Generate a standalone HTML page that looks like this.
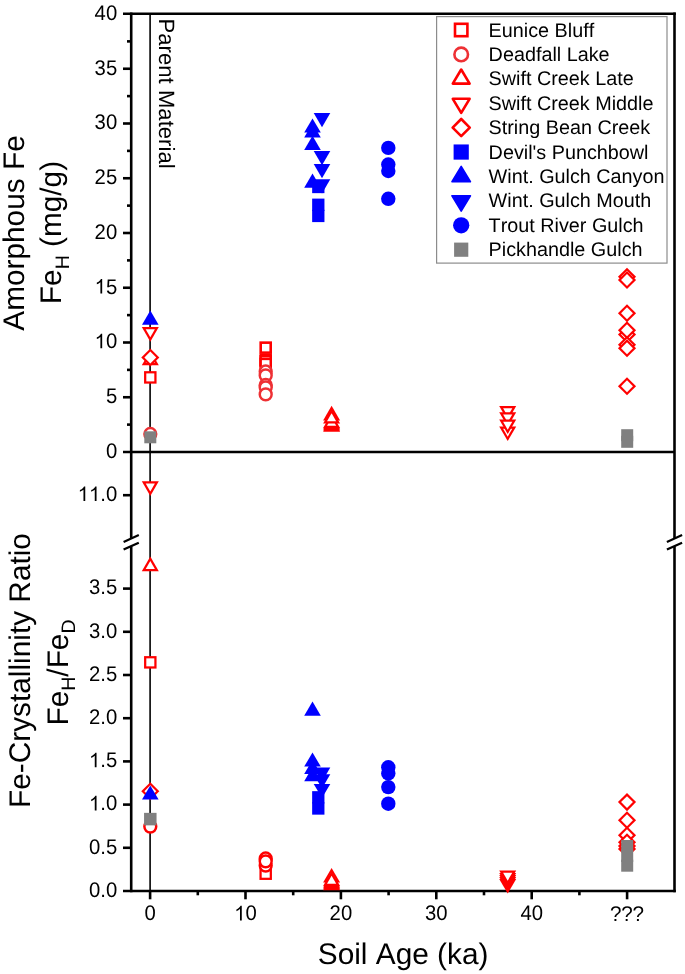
<!DOCTYPE html>
<html><head><meta charset="utf-8"><title>Fe chart</title>
<style>html,body{margin:0;padding:0;background:#fff;}svg{display:block;font-family:"Liberation Sans",sans-serif;}text{font-kerning:none;font-feature-settings:"kern" 0;text-rendering:geometricPrecision;}svg{will-change:transform;}</style>
</head><body>
<svg width="685" height="974" viewBox="0 0 685 974">
<rect x="0" y="0" width="685" height="974" fill="#fff"/>
<line x1="150.1" y1="13.7" x2="150.1" y2="891" stroke="#000" stroke-width="1.6" stroke-linecap="butt"/>
<line x1="131.2" y1="12.4" x2="131.2" y2="538.4" stroke="#000" stroke-width="2.6" stroke-linecap="butt"/>
<line x1="131.2" y1="546.2" x2="131.2" y2="892.3" stroke="#000" stroke-width="2.6" stroke-linecap="butt"/>
<line x1="674.5" y1="12.4" x2="674.5" y2="538.4" stroke="#000" stroke-width="2.6" stroke-linecap="butt"/>
<line x1="674.5" y1="546.2" x2="674.5" y2="892.3" stroke="#000" stroke-width="2.6" stroke-linecap="butt"/>
<line x1="123" y1="13.7" x2="675.8" y2="13.7" stroke="#000" stroke-width="2.6" stroke-linecap="butt"/>
<line x1="123" y1="452" x2="674.5" y2="452" stroke="#000" stroke-width="2.6" stroke-linecap="butt"/>
<line x1="123" y1="891" x2="675.8" y2="891" stroke="#000" stroke-width="2.6" stroke-linecap="butt"/>
<line x1="123.6" y1="541.9" x2="138.8" y2="535" stroke="#000" stroke-width="2.2" stroke-linecap="butt"/>
<line x1="123.6" y1="549.6" x2="138.8" y2="542.7" stroke="#000" stroke-width="2.2" stroke-linecap="butt"/>
<line x1="666.9" y1="541.9" x2="682.1" y2="535" stroke="#000" stroke-width="2.2" stroke-linecap="butt"/>
<line x1="666.9" y1="549.6" x2="682.1" y2="542.7" stroke="#000" stroke-width="2.2" stroke-linecap="butt"/>
<line x1="127" y1="424.62" x2="131.2" y2="424.62" stroke="#000" stroke-width="2.6" stroke-linecap="butt"/>
<line x1="123" y1="397.25" x2="131.2" y2="397.25" stroke="#000" stroke-width="2.6" stroke-linecap="butt"/>
<line x1="127" y1="369.88" x2="131.2" y2="369.88" stroke="#000" stroke-width="2.6" stroke-linecap="butt"/>
<line x1="123" y1="342.5" x2="131.2" y2="342.5" stroke="#000" stroke-width="2.6" stroke-linecap="butt"/>
<line x1="127" y1="315.12" x2="131.2" y2="315.12" stroke="#000" stroke-width="2.6" stroke-linecap="butt"/>
<line x1="123" y1="287.75" x2="131.2" y2="287.75" stroke="#000" stroke-width="2.6" stroke-linecap="butt"/>
<line x1="127" y1="260.38" x2="131.2" y2="260.38" stroke="#000" stroke-width="2.6" stroke-linecap="butt"/>
<line x1="123" y1="233" x2="131.2" y2="233" stroke="#000" stroke-width="2.6" stroke-linecap="butt"/>
<line x1="127" y1="205.63" x2="131.2" y2="205.63" stroke="#000" stroke-width="2.6" stroke-linecap="butt"/>
<line x1="123" y1="178.25" x2="131.2" y2="178.25" stroke="#000" stroke-width="2.6" stroke-linecap="butt"/>
<line x1="127" y1="150.88" x2="131.2" y2="150.88" stroke="#000" stroke-width="2.6" stroke-linecap="butt"/>
<line x1="123" y1="123.5" x2="131.2" y2="123.5" stroke="#000" stroke-width="2.6" stroke-linecap="butt"/>
<line x1="127" y1="96.12" x2="131.2" y2="96.12" stroke="#000" stroke-width="2.6" stroke-linecap="butt"/>
<line x1="123" y1="68.75" x2="131.2" y2="68.75" stroke="#000" stroke-width="2.6" stroke-linecap="butt"/>
<line x1="127" y1="41.38" x2="131.2" y2="41.38" stroke="#000" stroke-width="2.6" stroke-linecap="butt"/>
<line x1="123" y1="847.8" x2="131.2" y2="847.8" stroke="#000" stroke-width="2.6" stroke-linecap="butt"/>
<line x1="123" y1="804.6" x2="131.2" y2="804.6" stroke="#000" stroke-width="2.6" stroke-linecap="butt"/>
<line x1="123" y1="761.4" x2="131.2" y2="761.4" stroke="#000" stroke-width="2.6" stroke-linecap="butt"/>
<line x1="123" y1="718.2" x2="131.2" y2="718.2" stroke="#000" stroke-width="2.6" stroke-linecap="butt"/>
<line x1="123" y1="675" x2="131.2" y2="675" stroke="#000" stroke-width="2.6" stroke-linecap="butt"/>
<line x1="123" y1="631.8" x2="131.2" y2="631.8" stroke="#000" stroke-width="2.6" stroke-linecap="butt"/>
<line x1="123" y1="588.6" x2="131.2" y2="588.6" stroke="#000" stroke-width="2.6" stroke-linecap="butt"/>
<line x1="123" y1="495.2" x2="131.2" y2="495.2" stroke="#000" stroke-width="2.6" stroke-linecap="butt"/>
<line x1="150.1" y1="891" x2="150.1" y2="899.3" stroke="#000" stroke-width="2.6" stroke-linecap="butt"/>
<line x1="197.8" y1="891" x2="197.8" y2="895.3" stroke="#000" stroke-width="2.6" stroke-linecap="butt"/>
<line x1="245.5" y1="891" x2="245.5" y2="899.3" stroke="#000" stroke-width="2.6" stroke-linecap="butt"/>
<line x1="293.2" y1="891" x2="293.2" y2="895.3" stroke="#000" stroke-width="2.6" stroke-linecap="butt"/>
<line x1="340.9" y1="891" x2="340.9" y2="899.3" stroke="#000" stroke-width="2.6" stroke-linecap="butt"/>
<line x1="388.6" y1="891" x2="388.6" y2="895.3" stroke="#000" stroke-width="2.6" stroke-linecap="butt"/>
<line x1="436.3" y1="891" x2="436.3" y2="899.3" stroke="#000" stroke-width="2.6" stroke-linecap="butt"/>
<line x1="484" y1="891" x2="484" y2="895.3" stroke="#000" stroke-width="2.6" stroke-linecap="butt"/>
<line x1="531.7" y1="891" x2="531.7" y2="899.3" stroke="#000" stroke-width="2.6" stroke-linecap="butt"/>
<line x1="579.4" y1="891" x2="579.4" y2="895.3" stroke="#000" stroke-width="2.6" stroke-linecap="butt"/>
<line x1="627.1" y1="891" x2="627.1" y2="899.3" stroke="#000" stroke-width="2.6" stroke-linecap="butt"/>
<g font-family="Liberation Sans, sans-serif" fill="#000">
<text transform="translate(105.91,457.8) scale(1,1.04)" font-size="20.3">0</text>
<text transform="translate(105.91,403.05) scale(1,1.04)" font-size="20.3">5</text>
<path d="M102.18 348.3 L100.4 348.3 L100.4 336.93 Q99.75 337.55 98.73 338.15 Q97.71 338.75 96.83 339.08 L96.83 337.36 Q98.3 336.66 99.4 335.68 Q100.51 334.7 100.96 333.77 L102.18 333.77 Z" fill="#000"/>
<text transform="translate(105.91,348.3) scale(1,1.04)" font-size="20.3">0</text>
<path d="M102.18 293.55 L100.4 293.55 L100.4 282.18 Q99.75 282.8 98.73 283.4 Q97.71 284 96.83 284.33 L96.83 282.61 Q98.3 281.91 99.4 280.93 Q100.51 279.95 100.96 279.02 L102.18 279.02 Z" fill="#000"/>
<text transform="translate(105.91,293.55) scale(1,1.04)" font-size="20.3">5</text>
<text transform="translate(94.62,238.8) scale(1,1.04)" font-size="20.3">2</text>
<text transform="translate(105.91,238.8) scale(1,1.04)" font-size="20.3">0</text>
<text transform="translate(94.62,184.05) scale(1,1.04)" font-size="20.3">2</text>
<text transform="translate(105.91,184.05) scale(1,1.04)" font-size="20.3">5</text>
<text transform="translate(94.62,129.3) scale(1,1.04)" font-size="20.3">3</text>
<text transform="translate(105.91,129.3) scale(1,1.04)" font-size="20.3">0</text>
<text transform="translate(94.62,74.55) scale(1,1.04)" font-size="20.3">3</text>
<text transform="translate(105.91,74.55) scale(1,1.04)" font-size="20.3">5</text>
<text transform="translate(94.62,19.8) scale(1,1.04)" font-size="20.3">4</text>
<text transform="translate(105.91,19.8) scale(1,1.04)" font-size="20.3">0</text>
<text transform="translate(88.98,896.8) scale(1,1.04)" font-size="20.3">0</text>
<text transform="translate(100.27,896.8) scale(1,1.04)" font-size="20.3">.</text>
<text transform="translate(105.91,896.8) scale(1,1.04)" font-size="20.3">0</text>
<text transform="translate(88.98,853.6) scale(1,1.04)" font-size="20.3">0</text>
<text transform="translate(100.27,853.6) scale(1,1.04)" font-size="20.3">.</text>
<text transform="translate(105.91,853.6) scale(1,1.04)" font-size="20.3">5</text>
<path d="M96.54 810.4 L94.76 810.4 L94.76 799.03 Q94.11 799.65 93.09 800.25 Q92.07 800.85 91.19 801.18 L91.19 799.46 Q92.66 798.76 93.76 797.78 Q94.87 796.8 95.32 795.87 L96.54 795.87 Z" fill="#000"/>
<text transform="translate(100.27,810.4) scale(1,1.04)" font-size="20.3">.</text>
<text transform="translate(105.91,810.4) scale(1,1.04)" font-size="20.3">0</text>
<path d="M96.54 767.2 L94.76 767.2 L94.76 755.83 Q94.11 756.45 93.09 757.05 Q92.07 757.65 91.19 757.98 L91.19 756.26 Q92.66 755.56 93.76 754.58 Q94.87 753.6 95.32 752.67 L96.54 752.67 Z" fill="#000"/>
<text transform="translate(100.27,767.2) scale(1,1.04)" font-size="20.3">.</text>
<text transform="translate(105.91,767.2) scale(1,1.04)" font-size="20.3">5</text>
<text transform="translate(88.98,724) scale(1,1.04)" font-size="20.3">2</text>
<text transform="translate(100.27,724) scale(1,1.04)" font-size="20.3">.</text>
<text transform="translate(105.91,724) scale(1,1.04)" font-size="20.3">0</text>
<text transform="translate(88.98,680.8) scale(1,1.04)" font-size="20.3">2</text>
<text transform="translate(100.27,680.8) scale(1,1.04)" font-size="20.3">.</text>
<text transform="translate(105.91,680.8) scale(1,1.04)" font-size="20.3">5</text>
<text transform="translate(88.98,637.6) scale(1,1.04)" font-size="20.3">3</text>
<text transform="translate(100.27,637.6) scale(1,1.04)" font-size="20.3">.</text>
<text transform="translate(105.91,637.6) scale(1,1.04)" font-size="20.3">0</text>
<text transform="translate(88.98,594.4) scale(1,1.04)" font-size="20.3">3</text>
<text transform="translate(100.27,594.4) scale(1,1.04)" font-size="20.3">.</text>
<text transform="translate(105.91,594.4) scale(1,1.04)" font-size="20.3">5</text>
<path d="M85.25 501 L83.47 501 L83.47 489.63 Q82.82 490.25 81.8 490.85 Q80.78 491.45 79.9 491.78 L79.9 490.06 Q81.37 489.36 82.47 488.38 Q83.58 487.4 84.03 486.47 L85.25 486.47 Z" fill="#000"/>
<path d="M96.54 501 L94.76 501 L94.76 489.63 Q94.11 490.25 93.09 490.85 Q92.07 491.45 91.19 491.78 L91.19 490.06 Q92.66 489.36 93.76 488.38 Q94.87 487.4 95.32 486.47 L96.54 486.47 Z" fill="#000"/>
<text transform="translate(100.27,501) scale(1,1.04)" font-size="20.3">.</text>
<text transform="translate(105.91,501) scale(1,1.04)" font-size="20.3">0</text>
<text transform="translate(144.46,920.4) scale(1,1.04)" font-size="20.3">0</text>
<path d="M241.77 920.4 L239.99 920.4 L239.99 909.03 Q239.34 909.65 238.32 910.25 Q237.3 910.85 236.42 911.18 L236.42 909.46 Q237.89 908.76 238.99 907.78 Q240.1 906.8 240.55 905.87 L241.77 905.87 Z" fill="#000"/>
<text transform="translate(245.5,920.4) scale(1,1.04)" font-size="20.3">0</text>
<text transform="translate(329.61,920.4) scale(1,1.04)" font-size="20.3">2</text>
<text transform="translate(340.9,920.4) scale(1,1.04)" font-size="20.3">0</text>
<text transform="translate(425.01,920.4) scale(1,1.04)" font-size="20.3">3</text>
<text transform="translate(436.3,920.4) scale(1,1.04)" font-size="20.3">0</text>
<text transform="translate(520.41,920.4) scale(1,1.04)" font-size="20.3">4</text>
<text transform="translate(531.7,920.4) scale(1,1.04)" font-size="20.3">0</text>
<text transform="translate(609.97,920.5) scale(1.02,1.05)" font-size="20.3">?</text>
<text transform="translate(621.26,920.5) scale(1.02,1.05)" font-size="20.3">?</text>
<text transform="translate(632.54,920.5) scale(1.02,1.05)" font-size="20.3">?</text>
<text x="403.1" y="963.6" font-size="29.8" text-anchor="middle">Soil Age (ka)</text>
<text transform="translate(24.2,233) rotate(-90)" font-size="29.8" text-anchor="middle">Amorphous Fe</text>
<text transform="translate(61.3,232.5) rotate(-90)" font-size="29.8" text-anchor="middle">Fe<tspan font-size="19.5" dy="7.6">H</tspan><tspan dy="-7.6"> (mg/g)</tspan></text>
<text transform="translate(30.4,670.5) rotate(-90)" font-size="29.8" text-anchor="middle">Fe-Crystallinity Ratio</text>
<text transform="translate(67.8,672.5) rotate(-90)" font-size="29.8" text-anchor="middle">Fe<tspan font-size="19.5" dy="7.6">H</tspan><tspan dy="-7.6">/Fe</tspan><tspan font-size="19.5" dy="7.6">D</tspan></text>
<text transform="translate(159.4,18.5) rotate(90)" font-size="22.15">Parent Material</text>
</g>
<rect x="145.18" y="372.27" width="10.25" height="10.25" fill="#fff" stroke="#ff0000" stroke-width="2.25"/>
<rect x="260.68" y="355.03" width="10.05" height="10.05" fill="#fff" stroke="#ff0000" stroke-width="2.45"/>
<rect x="260.68" y="356.23" width="10.05" height="10.05" fill="#fff" stroke="#ff0000" stroke-width="2.45"/>
<rect x="260.68" y="358.93" width="10.05" height="10.05" fill="#fff" stroke="#ff0000" stroke-width="2.45"/>
<rect x="260.7" y="342.65" width="10" height="10" fill="#fff" stroke="#ff0000" stroke-width="2.6"/>
<rect x="145.18" y="657.23" width="10.25" height="10.25" fill="#fff" stroke="#ff0000" stroke-width="2.25"/>
<rect x="260.57" y="868.58" width="10.25" height="10.25" fill="#fff" stroke="#ff0000" stroke-width="2.25"/>
<circle cx="150.3" cy="434" r="5.93" fill="#fff" stroke="#ee3034" stroke-width="2.45"/>
<circle cx="265.7" cy="371.5" r="5.93" fill="#fff" stroke="#ee3034" stroke-width="2.45"/>
<circle cx="265.7" cy="375.4" r="5.93" fill="#fff" stroke="#ee3034" stroke-width="2.45"/>
<circle cx="265.7" cy="385" r="5.93" fill="#fff" stroke="#ee3034" stroke-width="2.45"/>
<circle cx="265.7" cy="387.4" r="5.93" fill="#fff" stroke="#ee3034" stroke-width="2.45"/>
<circle cx="265.7" cy="394.4" r="5.93" fill="#fff" stroke="#ee3034" stroke-width="2.45"/>
<circle cx="150.3" cy="826.6" r="5.93" fill="#fff" stroke="#ff0000" stroke-width="2.45"/>
<circle cx="265.7" cy="858.5" r="5.93" fill="#fff" stroke="#ff0000" stroke-width="2.45"/>
<circle cx="265.7" cy="865.6" r="5.93" fill="#fff" stroke="#ff0000" stroke-width="2.45"/>
<circle cx="265.7" cy="861.35" r="5.93" fill="#fff" stroke="#ff0000" stroke-width="2.45"/>
<polygon points="150.3,350.7 158.8,365.3 141.8,365.3" fill="#ff0000"/>
<polygon points="150.3,355.17 154.89,363.05 145.71,363.05" fill="#fff"/>
<polygon points="331.6,405.8 340.1,420.4 323.1,420.4" fill="#ff0000"/>
<polygon points="331.6,410.27 336.19,418.15 327.01,418.15" fill="#fff"/>
<polygon points="331.6,417.2 340.1,431.8 323.1,431.8" fill="#ff0000"/>
<polygon points="331.6,421.67 336.19,429.55 327.01,429.55" fill="#fff"/>
<polygon points="331.6,416 340.1,430.6 323.1,430.6" fill="#ff0000"/>
<polygon points="331.6,420.47 336.19,428.35 327.01,428.35" fill="#fff"/>
<polygon points="331.6,414.7 340.1,429.3 323.1,429.3" fill="#ff0000"/>
<polygon points="331.6,419.17 336.19,427.05 327.01,427.05" fill="#fff"/>
<polygon points="331.6,413.4 340.1,428 323.1,428" fill="#ff0000"/>
<polygon points="331.6,417.87 336.19,425.75 327.01,425.75" fill="#fff"/>
<polygon points="331.6,408.9 340.1,423.5 323.1,423.5" fill="#ff0000"/>
<polygon points="331.6,413.37 336.19,421.25 327.01,421.25" fill="#fff"/>
<polygon points="150.3,556.6 158.8,571.2 141.8,571.2" fill="#ff0000"/>
<polygon points="150.3,561.07 154.89,568.95 145.71,568.95" fill="#fff"/>
<polygon points="331.6,867.9 340.1,882.5 323.1,882.5" fill="#ff0000"/>
<polygon points="331.6,872.37 336.19,880.25 327.01,880.25" fill="#fff"/>
<polygon points="331.6,875.6 340.1,890.2 323.1,890.2" fill="#ff0000"/>
<polygon points="331.6,880.07 336.19,887.95 327.01,887.95" fill="#fff"/>
<polygon points="331.6,874.2 340.1,888.8 323.1,888.8" fill="#ff0000"/>
<polygon points="331.6,878.67 336.19,886.55 327.01,886.55" fill="#fff"/>
<polygon points="331.6,872.8 340.1,887.4 323.1,887.4" fill="#ff0000"/>
<polygon points="331.6,877.27 336.19,885.15 327.01,885.15" fill="#fff"/>
<polygon points="331.6,871.3 340.1,885.9 323.1,885.9" fill="#ff0000"/>
<polygon points="331.6,875.77 336.19,883.65 327.01,883.65" fill="#fff"/>
<polygon points="141.8,327.1 158.8,327.1 150.3,341.7" fill="#ff0000"/>
<polygon points="145.71,329.35 154.89,329.35 150.3,337.23" fill="#fff"/>
<polygon points="499.2,406.1 516.2,406.1 507.7,420.7" fill="#ff0000"/>
<polygon points="503.11,408.35 512.29,408.35 507.7,416.23" fill="#fff"/>
<polygon points="499.2,412.2 516.2,412.2 507.7,426.8" fill="#ff0000"/>
<polygon points="503.11,414.45 512.29,414.45 507.7,422.33" fill="#fff"/>
<polygon points="499.2,426.5 516.2,426.5 507.7,441.1" fill="#ff0000"/>
<polygon points="503.11,428.75 512.29,428.75 507.7,436.63" fill="#fff"/>
<polygon points="499.2,419.5 516.2,419.5 507.7,434.1" fill="#ff0000"/>
<polygon points="503.11,421.75 512.29,421.75 507.7,429.63" fill="#fff"/>
<polygon points="141.8,481.3 158.8,481.3 150.3,495.9" fill="#ff0000"/>
<polygon points="145.71,483.55 154.89,483.55 150.3,491.43" fill="#fff"/>
<polygon points="499.2,879 516.2,879 507.7,893.6" fill="#ff0000"/>
<polygon points="503.11,881.25 512.29,881.25 507.7,889.13" fill="#fff"/>
<polygon points="499.2,877 516.2,877 507.7,891.6" fill="#ff0000"/>
<polygon points="503.11,879.25 512.29,879.25 507.7,887.13" fill="#fff"/>
<polygon points="499.2,875 516.2,875 507.7,889.6" fill="#ff0000"/>
<polygon points="503.11,877.25 512.29,877.25 507.7,885.13" fill="#fff"/>
<polygon points="499.2,873 516.2,873 507.7,887.6" fill="#ff0000"/>
<polygon points="503.11,875.25 512.29,875.25 507.7,883.13" fill="#fff"/>
<polygon points="499.2,870.5 516.2,870.5 507.7,885.1" fill="#ff0000"/>
<polygon points="503.11,872.75 512.29,872.75 507.7,880.63" fill="#fff"/>
<polygon points="150.3,348.45 159.35,357.5 150.3,366.55 141.25,357.5" fill="#ff0000"/>
<polygon points="150.3,351.56 156.24,357.5 150.3,363.44 144.36,357.5" fill="#fff"/>
<polygon points="627,267.75 636.05,276.8 627,285.85 617.95,276.8" fill="#ff0000"/>
<polygon points="627,270.86 632.94,276.8 627,282.74 621.06,276.8" fill="#fff"/>
<polygon points="627,270.95 636.05,280 627,289.05 617.95,280" fill="#ff0000"/>
<polygon points="627,274.06 632.94,280 627,285.94 621.06,280" fill="#fff"/>
<polygon points="627,304.25 636.05,313.3 627,322.35 617.95,313.3" fill="#ff0000"/>
<polygon points="627,307.36 632.94,313.3 627,319.24 621.06,313.3" fill="#fff"/>
<polygon points="627,325.45 636.05,334.5 627,343.55 617.95,334.5" fill="#ff0000"/>
<polygon points="627,328.56 632.94,334.5 627,340.44 621.06,334.5" fill="#fff"/>
<polygon points="627,321.15 636.05,330.2 627,339.25 617.95,330.2" fill="#ff0000"/>
<polygon points="627,324.26 632.94,330.2 627,336.14 621.06,330.2" fill="#fff"/>
<polygon points="627,335.65 636.05,344.7 627,353.75 617.95,344.7" fill="#ff0000"/>
<polygon points="627,338.76 632.94,344.7 627,350.64 621.06,344.7" fill="#fff"/>
<polygon points="627,339.25 636.05,348.3 627,357.35 617.95,348.3" fill="#ff0000"/>
<polygon points="627,342.36 632.94,348.3 627,354.24 621.06,348.3" fill="#fff"/>
<polygon points="627,377.25 636.05,386.3 627,395.35 617.95,386.3" fill="#ff0000"/>
<polygon points="627,380.36 632.94,386.3 627,392.24 621.06,386.3" fill="#fff"/>
<polygon points="150.3,782.15 159.35,791.2 150.3,800.25 141.25,791.2" fill="#ff0000"/>
<polygon points="150.3,785.26 156.24,791.2 150.3,797.14 144.36,791.2" fill="#fff"/>
<polygon points="627,793.05 636.05,802.1 627,811.15 617.95,802.1" fill="#ff0000"/>
<polygon points="627,796.16 632.94,802.1 627,808.04 621.06,802.1" fill="#fff"/>
<polygon points="627,811.15 636.05,820.2 627,829.25 617.95,820.2" fill="#ff0000"/>
<polygon points="627,814.26 632.94,820.2 627,826.14 621.06,820.2" fill="#fff"/>
<polygon points="627,839.95 636.05,849 627,858.05 617.95,849" fill="#ff0000"/>
<polygon points="627,843.06 632.94,849 627,854.94 621.06,849" fill="#fff"/>
<polygon points="627,836.95 636.05,846 627,855.05 617.95,846" fill="#ff0000"/>
<polygon points="627,840.06 632.94,846 627,851.94 621.06,846" fill="#fff"/>
<polygon points="627,826.25 636.05,835.3 627,844.35 617.95,835.3" fill="#ff0000"/>
<polygon points="627,829.36 632.94,835.3 627,841.24 621.06,835.3" fill="#fff"/>
<polygon points="627,833.15 636.05,842.2 627,851.25 617.95,842.2" fill="#ff0000"/>
<polygon points="627,836.26 632.94,842.2 627,848.14 621.06,842.2" fill="#fff"/>
<rect x="312.15" y="180.85" width="12.3" height="12.3" fill="#0000ff"/>
<rect x="312.15" y="198.6" width="12.3" height="12.3" fill="#0000ff"/>
<rect x="312.15" y="209.8" width="12.3" height="12.3" fill="#0000ff"/>
<rect x="312.15" y="791.15" width="12.3" height="12.3" fill="#0000ff"/>
<rect x="312.15" y="802.35" width="12.3" height="12.3" fill="#0000ff"/>
<polygon points="150.3,310.5 158.6,324.7 142,324.7" fill="#0000ff"/>
<polygon points="312.5,118.4 320.8,132.6 304.2,132.6" fill="#0000ff"/>
<polygon points="312.5,123.3 320.8,137.5 304.2,137.5" fill="#0000ff"/>
<polygon points="312.5,135.8 320.8,150 304.2,150" fill="#0000ff"/>
<polygon points="312.5,173.5 320.8,187.7 304.2,187.7" fill="#0000ff"/>
<polygon points="150.3,785.4 158.6,799.6 142,799.6" fill="#0000ff"/>
<polygon points="312.5,701.6 320.8,715.8 304.2,715.8" fill="#0000ff"/>
<polygon points="312.5,752.4 320.8,766.6 304.2,766.6" fill="#0000ff"/>
<polygon points="312.5,759.7 320.8,773.9 304.2,773.9" fill="#0000ff"/>
<polygon points="312.5,767 320.8,781.2 304.2,781.2" fill="#0000ff"/>
<polygon points="313.7,113 330.3,113 322,127.2" fill="#0000ff"/>
<polygon points="313.7,151.1 330.3,151.1 322,165.3" fill="#0000ff"/>
<polygon points="313.7,164 330.3,164 322,178.2" fill="#0000ff"/>
<polygon points="313.7,179.3 330.3,179.3 322,193.5" fill="#0000ff"/>
<polygon points="313.7,767.5 330.3,767.5 322,781.7" fill="#0000ff"/>
<polygon points="313.7,774.3 330.3,774.3 322,788.5" fill="#0000ff"/>
<polygon points="313.7,783.9 330.3,783.9 322,798.1" fill="#0000ff"/>
<circle cx="388.3" cy="147.9" r="7.2" fill="#0000ff"/>
<circle cx="388.3" cy="164.5" r="7.2" fill="#0000ff"/>
<circle cx="388.3" cy="171" r="7.2" fill="#0000ff"/>
<circle cx="388.3" cy="198.8" r="7.2" fill="#0000ff"/>
<circle cx="388.3" cy="767.3" r="7.2" fill="#0000ff"/>
<circle cx="388.3" cy="773.5" r="7.2" fill="#0000ff"/>
<circle cx="388.3" cy="787.1" r="7.2" fill="#0000ff"/>
<circle cx="388.3" cy="803.7" r="7.2" fill="#0000ff"/>
<rect x="144.3" y="431.3" width="12" height="12" fill="#808080"/>
<rect x="621.2" y="429.2" width="12" height="12" fill="#808080"/>
<rect x="621.2" y="435.8" width="12" height="12" fill="#808080"/>
<rect x="144.05" y="812.85" width="12.5" height="12.5" fill="#808080"/>
<rect x="621.2" y="840" width="12" height="12" fill="#808080"/>
<rect x="621.2" y="850" width="12" height="12" fill="#808080"/>
<rect x="621.2" y="859.7" width="12" height="12" fill="#808080"/>
<rect x="436.6" y="16.6" width="230.4" height="246.5" fill="#fff" stroke="#8c8c8c" stroke-width="1.2"/>
<rect x="455" y="23.8" width="12.4" height="12.4" fill="#fff" stroke="#ff0000" stroke-width="2.6"/>
<circle cx="461.2" cy="54.41" r="6.8" fill="#fff" stroke="#ee3034" stroke-width="2.6"/>
<polygon points="461.2,69.53 469.61,83.6 452.79,83.6" fill="#fff" stroke="#ff0000" stroke-width="2.6" stroke-linejoin="round"/>
<polygon points="452.79,98.8 469.61,98.8 461.2,112.96" fill="#fff" stroke="#ff0000" stroke-width="2.6" stroke-linejoin="round"/>
<polygon points="461.2,118.99 469.76,127.55 461.2,136.11 452.64,127.55" fill="#fff" stroke="#ff0000" stroke-width="2.6" stroke-linejoin="round"/>
<rect x="453.6" y="144.45" width="15.2" height="15.2" fill="#0000ff"/>
<polygon points="461.2,166.45 470.43,181.7 451.97,181.7" fill="#0000ff" stroke="#0000ff" stroke-width="1.6" stroke-linejoin="round"/>
<polygon points="451.97,195.8 470.43,195.8 461.2,211.15" fill="#0000ff" stroke="#0000ff" stroke-width="1.6" stroke-linejoin="round"/>
<circle cx="461.2" cy="225.28" r="8.15" fill="#0000ff"/>
<rect x="454.1" y="242.59" width="14.2" height="14.2" fill="#808080"/>
<g font-family="Liberation Sans, sans-serif" fill="#000">
<text x="488.6" y="36.6" font-size="19.8" text-anchor="start">Eunice Bluff</text>
<text x="488.6" y="61.01" font-size="19.8" text-anchor="start">Deadfall Lake</text>
<text x="488.6" y="85.42" font-size="19.8" text-anchor="start">Swift Creek Late</text>
<text x="488.6" y="109.83" font-size="19.8" text-anchor="start">Swift Creek Middle</text>
<text x="488.6" y="134.24" font-size="19.8" text-anchor="start">String Bean Creek</text>
<text x="488.6" y="158.65" font-size="19.8" text-anchor="start">Devil&#39;s Punchbowl</text>
<text x="488.6" y="183.06" font-size="19.8" text-anchor="start">Wint. Gulch Canyon</text>
<text x="488.6" y="207.47" font-size="19.8" text-anchor="start">Wint. Gulch Mouth</text>
<text x="488.6" y="231.88" font-size="19.8" text-anchor="start">Trout River Gulch</text>
<text x="488.6" y="256.29" font-size="19.8" text-anchor="start">Pickhandle Gulch</text>
</g>
</svg>
</body></html>
